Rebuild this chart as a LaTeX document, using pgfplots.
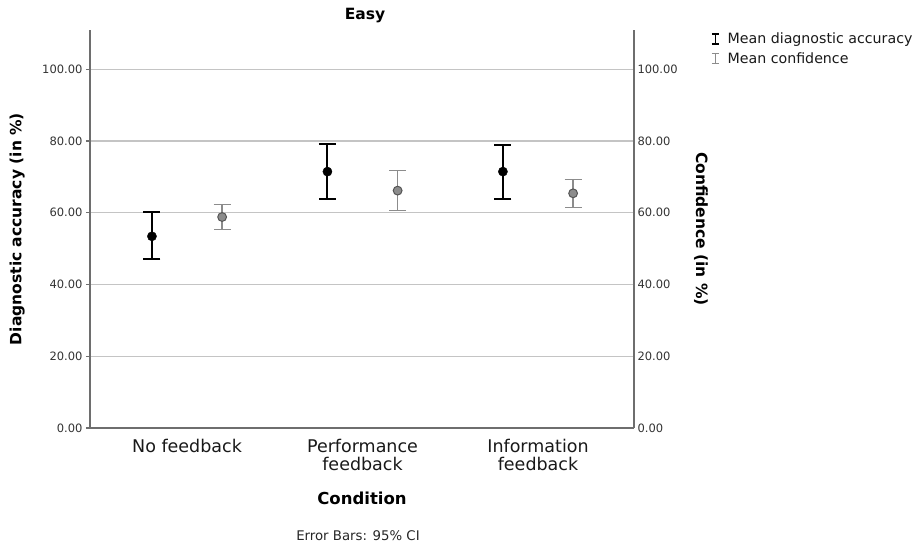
\documentclass[border=0pt]{standalone}
\usepackage{fontspec}
\setmainfont{DejaVu Sans}
\usepackage{pgfplots}
\pgfplotsset{compat=1.18}
\definecolor{axisgray}{HTML}{6E6E6E}
\definecolor{gridgray}{HTML}{C4C4C4}
\definecolor{confgray}{HTML}{8C8C8C}
\definecolor{confline}{HTML}{555555}
\begin{document}
\begin{tikzpicture}[x=1pt,y=1pt]
\useasboundingbox (0,0) rectangle (919,545);
\pgfplotsset{
  commonaxis/.style={
    scale only axis, width=544pt, height=398pt,
    at={(90pt,117pt)}, anchor=south west,
    xmin=-0.553, xmax=2.547, ymin=0, ymax=110.96,
    ytick={0,20,40,60,80,100},
    axis line style={axisgray, line width=1.2pt},
    yticklabel style={/pgf/number format/fixed, /pgf/number format/fixed zerofill, /pgf/number format/precision=2, /pgf/number format/assume math mode=true, font=\fontsize{11.5}{12}\selectfont, text=black!80},
    clip=false,
  }
}
\begin{axis}[commonaxis,
  axis x line*=bottom, axis y line*=left,
  ymajorgrids, grid style={gridgray, line width=1.2pt},
  xtick={0,1,2},
  xticklabels={No feedback, {Performance\\feedback}, {Information\\feedback}},
  xticklabel style={align=center, font=\fontsize{17.5}{18}\selectfont, text=black!90, yshift=-4pt},
  major x tick style={draw=none},
  major y tick style={axisgray, line width=1.2pt},
  tick align=outside, major tick length=4pt,
  title={\bfseries Easy},
  title style={at={(axis description cs:0.5055,1.022)}, anchor=center, yshift=0pt, font=\fontsize{15.5}{16}\selectfont},
  xlabel={\bfseries Condition},
  xlabel style={at={(axis description cs:0.5,-0.178)}, anchor=center, font=\fontsize{16.5}{17}\selectfont},
  ylabel={\bfseries Diagnostic accuracy (in \%)},
  ylabel style={at={(axis description cs:-0.134,0.5)}, anchor=center, rotate=0, font=\fontsize{15.5}{16}\selectfont},
  legend style={at={(axis description cs:1.1305,0.996)}, anchor=north west, draw=none, fill=none, inner sep=0pt, row sep=5.5pt, font=\fontsize{14.2}{15}\selectfont, text=black!90, legend cell align=left, nodes={inner sep=1pt}},
  legend image code/.code={
    \path (0pt,0pt) (21pt,0pt);
    \draw[#1, line width=1.3pt] (10pt,-5pt) -- (10pt,5pt);
    \draw[#1, line width=1.3pt] (6.5pt,5pt) -- (13.5pt,5pt);
    \draw[#1, line width=1.3pt] (6.5pt,-5pt) -- (13.5pt,-5pt);
  },
]
\addplot[black, only marks, mark=*, mark size=4.6pt, mark options={fill=black},
  error bars/.cd, y dir=both, y explicit,
  error bar style={black, line width=1.9pt},
  error mark options={rotate=90, black, mark size=8.5pt, line width=1.9pt}]
  coordinates {
    (-0.2,53.44) += (0,6.69) -= (0,6.42)
    (0.8,71.48) += (0,7.61) -= (0,7.53)
    (1.8,71.48) += (0,7.42) -= (0,7.53)
  };
\addlegendentry{Mean diagnostic accuracy}
\addplot[confgray, only marks, mark=*, mark size=4.4pt, mark options={fill=confgray, draw=confline, line width=1pt},
  error bars/.cd, y dir=both, y explicit,
  error bar style={confgray, line width=1.5pt},
  error mark options={rotate=90, confgray, mark size=8.5pt, line width=1.5pt}]
  coordinates {
    (0.2,58.82) += (0,3.54) -= (0,3.43)
    (1.2,66.18) += (0,5.58) -= (0,5.57)
    (2.2,65.43) += (0,3.82) -= (0,3.99)
  };
\addlegendentry{Mean confidence}
\node[font=\fontsize{13.3}{14}\selectfont, text=black!85] at (axis description cs:0.4926,-0.271) {Error Bars: 95\% CI};
\end{axis}
\begin{axis}[commonaxis,
  axis x line=none, axis y line*=right,
  major tick length=0pt,
  ylabel={\bfseries Confidence (in \%)},
  ylabel style={at={(axis description cs:1.123,0.5)}, anchor=center, rotate=180, font=\fontsize{15.5}{16}\selectfont},
]
\addplot[draw=none] coordinates {(0,0)};
\end{axis}
\end{tikzpicture}
\end{document}
